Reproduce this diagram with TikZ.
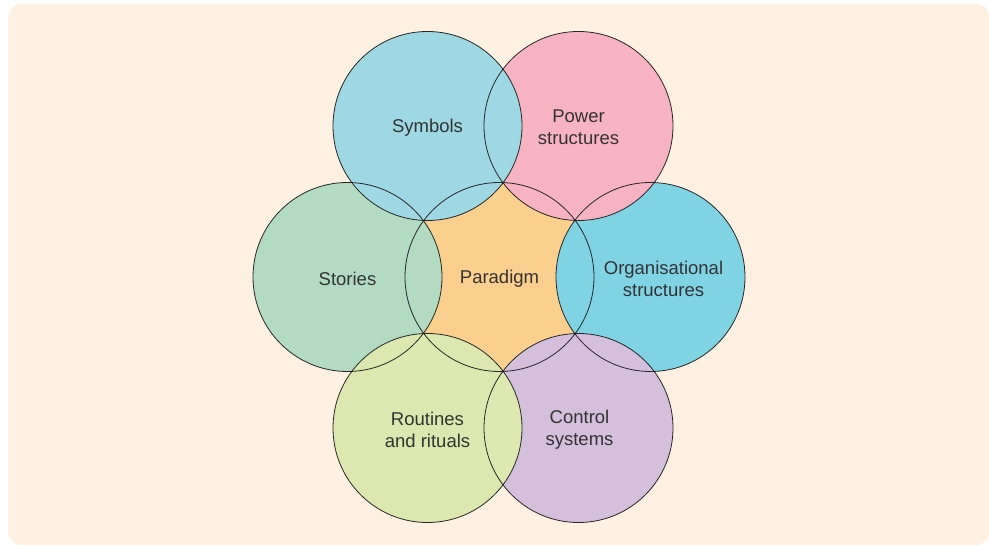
\documentclass[tikz,border=0pt]{standalone}
\usepackage{fontspec}
\setmainfont{Liberation Sans}
\definecolor{bgc}{HTML}{FEF1E2}
\definecolor{csym}{HTML}{9ED8E3}
\definecolor{cpow}{HTML}{F7B3C2}
\definecolor{csto}{HTML}{B2DBC1}
\definecolor{corg}{HTML}{7FD3E3}
\definecolor{crou}{HTML}{DCE8B0}
\definecolor{ccon}{HTML}{D4BFDC}
\definecolor{cpar}{HTML}{FBCF8E}
\definecolor{txt}{HTML}{333333}
\tikzset{
  ring/.style={circle, minimum size=189pt, inner sep=0pt},
  rim/.style={draw=black!85, line width=0.8pt},
  lbl/.style={font=\fontsize{18.5pt}{22pt}\selectfont, text=txt, align=center}
}
\begin{document}
\begin{tikzpicture}[x=1pt,y=-1pt]
\useasboundingbox (0,0) rectangle (989,545);
\fill[bgc, rounded corners=14pt] (8,4) rectangle (990,545);
% fills in stacking order
\node[ring, fill=cpar] (par) at (499.5,277) {};
\node[ring, fill=corg] (org) at (650.5,277) {};
\node[ring, fill=cpow] (pow) at (578.5,126) {};
\node[ring, fill=ccon] (con) at (578.5,428) {};
\node[ring, fill=csto] (sto) at (347.5,277) {};
\node[ring, fill=crou] (rou) at (427.5,428) {};
\node[ring, fill=csym] (sym) at (427.5,126) {};
% outlines on top
\foreach \n in {par,org,pow,con,sto,rou,sym}
  \draw[rim] (\n.center) circle (94.5);
% labels
\node[lbl] (tpar) at (499.5,279) {Paradigm};
\node[lbl] (tsym) at (427.5,128) {Symbols};
\node[lbl] (tpow) at (578.5,127.5) {Power\\structures};
\node[lbl] (tsto) at (347.5,279) {Stories};
\node[lbl] (torg) at (663.5,278.5) {Organisational\\structures};
\node[lbl] (trou) at (427.5,429.5) {Routines\\and rituals};
\node[lbl] (tcon) at (579.5,430) {Control\\systems};
\end{tikzpicture}
\end{document}
